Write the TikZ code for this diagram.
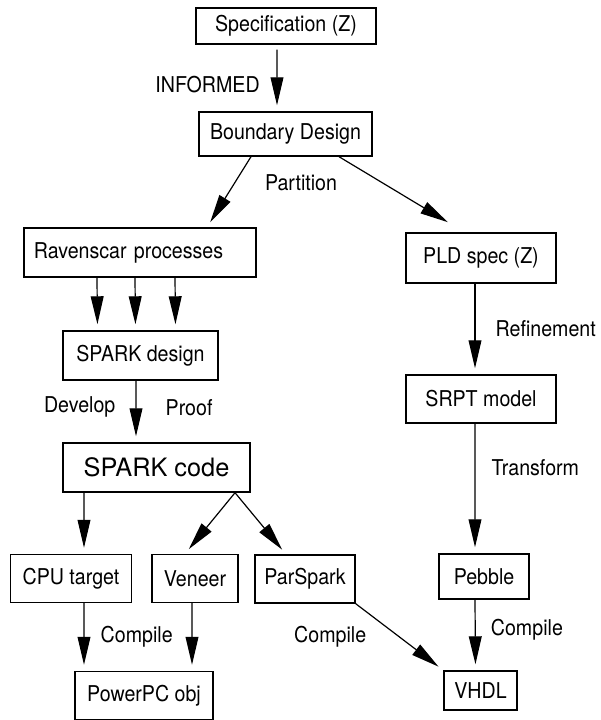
\documentclass[tikz,border=0pt]{standalone}
\usepackage{fontspec}
\setmainfont[FakeStretch=0.9]{TeX Gyre Heros}
\newfontfamily\codefont{TeX Gyre Heros}
\usetikzlibrary{arrows.meta,positioning}

\begin{document}
\begin{tikzpicture}[x=0.025cm, y=-0.025cm, font=\fontsize{15.5}{18}\selectfont,
  box/.style={draw, line width=1pt, inner sep=0pt},
  flow/.style={-{Triangle[length=0.7cm,width=0.32cm]}, line width=0.85pt, shorten >=0.15cm}]
  \useasboundingbox (0,0) rectangle (600,720);

  \node[box, minimum width=4.5cm, minimum height=0.9cm] (spec) at (286,26) {Specification (Z)};
  \node[box, minimum width=4.325cm, minimum height=1.1cm] (bound) at (285.5,134) {Boundary Design};
  \node (partition) at (301,183) {Partition};
  \node[box, text width=5.3cm, align=left, inner xsep=0.25cm, minimum height=1.225cm] (raven) at (140,252.5) {Ravenscar processes};
  \node[box, minimum width=3.75cm, minimum height=1.25cm] (pld) at (481,258) {PLD spec (Z)};
  \node[box, minimum width=3.875cm, minimum height=1.225cm] (sdesign) at (140.5,355.5) {SPARK design};
  \node[box, minimum width=3.75cm, minimum height=1.2cm] (srpt) at (481,399) {SRPT model};
  \node[box, minimum width=4.675cm, minimum height=1.225cm, font=\codefont\fontsize{18}{21}\selectfont] (scode) at (156.5,467.5) {SPARK code};
  \node[box, minimum width=3.025cm, minimum height=1.2cm] (cpu) at (71,578.5) {CPU target};
  \node[box, minimum width=2.15cm, minimum height=1.2cm] (veneer) at (195,578.5) {Veneer};
  \node[box, minimum width=2.5cm, minimum height=1.2cm] (parspark) at (305,579) {ParSpark};
  \node[box, minimum width=2.25cm, minimum height=1.125cm] (pebble) at (484,576.5) {Pebble};
  \node[box, minimum width=3.45cm, minimum height=1.2cm] (powerpc) at (144,695.5) {PowerPC obj};
  \node[box, minimum width=1.825cm, minimum height=0.975cm] (vhdl) at (480.5,690.5) {VHDL};

  % left branch
  \draw[flow, shorten <=0.125cm] ([xshift=-0.225cm]spec.south) to node[pos=0.6, left=0.3cm] (informed) {INFORMED} ([xshift=-0.2125cm]bound.north);
  \draw[flow] ([xshift=-0.8625cm]bound.south) to ([xshift=1.675cm]raven.north);
  \draw[flow] ([xshift=1.3375cm]bound.south) to ([xshift=-0.7cm,yshift=0.175cm]pld.north);
  \draw[flow] ([xshift=-1.075cm]raven.south) to ([xshift=-1.075cm]sdesign.north);
  \draw[flow] ([xshift=-0.125cm]raven.south) to ([xshift=-0.125cm]sdesign.north);
  \draw[flow] ([xshift=0.875cm]raven.south) to ([xshift=0.875cm]sdesign.north);
  \draw[flow] ([xshift=-0.1125cm]sdesign.south) to node[pos=0.43, left=0.385cm] (develop) {Develop}
    node[pos=0.43, right=0.61cm] (proof) {Proof} ([xshift=-0.5125cm]scode.north);
  \draw[flow] ([xshift=-1.8125cm]scode.south) to ([xshift=0.325cm]cpu.north);
  \draw[flow] ([xshift=1.9625cm]scode.south) to ([xshift=-0.25cm]veneer.north);
  \draw[flow] ([xshift=1.9625cm]scode.south) to ([xshift=-0.475cm]parspark.north);
  \draw[flow] ([xshift=0.325cm]cpu.south) to node[right=0.285cm] (compileA) {Compile} ([xshift=-1.5cm]powerpc.north);
  \draw[flow] ([xshift=-0.075cm]veneer.south) to ([xshift=1.2cm]powerpc.north);
  \draw[flow] (parspark.south east) to node[left=0.7cm] (compileB) {Compile} (vhdl.north west);

  % right branch
  \draw[flow] ([xshift=-0.15cm]pld.south) to node[right=0.385cm] (refine) {Refinement} ([xshift=-0.15cm]srpt.north);
  \draw[flow] ([xshift=-0.15cm]srpt.south) to node[pos=0.34, right=0.285cm] (transform) {Transform} ([xshift=-0.225cm]pebble.north);
  \draw[flow] ([xshift=-0.225cm]pebble.south) to node[pos=0.42, right=0.26cm] (compileC) {Compile} ([xshift=-0.125cm]vhdl.north);
\end{tikzpicture}
\end{document}
